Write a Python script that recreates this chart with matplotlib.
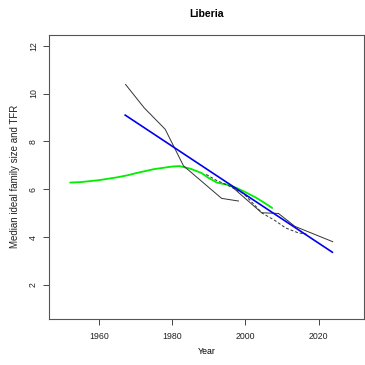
import matplotlib
matplotlib.use('Agg')
import matplotlib.pyplot as plt

plt.rcParams['font.family'] = ['Liberation Sans', 'DejaVu Sans']

# ideal family size (smoothed)
ideal_years = [1952.2, 1955, 1960, 1965, 1968, 1970, 1975, 1980, 1982, 1985,
               1988, 1990, 1991.3, 1992.2, 1995, 1997.5, 2000, 2003, 2005, 2007.3]
ideal_vals = [6.28, 6.30, 6.38, 6.50, 6.59, 6.67, 6.84, 6.95, 6.97, 6.86,
              6.68, 6.47, 6.36, 6.28, 6.19, 6.06, 5.88, 5.64, 5.45, 5.22]

# TFR, older estimates
tfr1_years = [1967.3, 1972.4, 1978.1, 1983.1, 1993.5, 1998.1]
tfr1_vals = [10.38, 9.40, 8.51, 6.98, 5.62, 5.51]

# TFR, recent estimates
tfr2_years = [1996.2, 2004.4, 2009.0, 2013.5, 2023.8]
tfr2_vals = [6.12, 5.02, 4.99, 4.45, 3.81]

# TFR, dashed series
tfr3_years = [1989.3, 1992, 1995, 1999.4, 2002, 2004.6, 2008, 2011, 2014.4, 2016.6]
tfr3_vals = [6.62, 6.38, 6.18, 5.83, 5.42, 5.00, 4.70, 4.38, 4.18, 4.13]

# linear trend
fit_years = [1967.2, 2023.7]
fit_vals = [9.10, 3.37]

xticks = [1960, 1980, 2000, 2020]
yticks = [2, 4, 6, 8, 10, 12]

fig = plt.figure(figsize=(3.65, 3.65), dpi=100)
ax = fig.add_axes([0.134, 0.126, 0.863, 0.779])

ax.plot(ideal_years, ideal_vals, color='#00ee00', lw=1.3, solid_capstyle='round')
ax.plot(tfr1_years, tfr1_vals, color='#333333', lw=0.7)
ax.plot(tfr2_years, tfr2_vals, color='#333333', lw=0.7)
ax.plot(tfr3_years, tfr3_vals, color='#333333', lw=0.7, ls=(0, (3, 2)))
ax.plot(fit_years, fit_vals, color='#0000ee', lw=1.2)

ax.set_xlim(1946.4, 2032.3)
ax.set_ylim(0.58, 12.46)
ax.set_xticks(xticks)
ax.set_yticks(yticks)
ax.set_yticklabels([str(v) for v in yticks], rotation=90, va='center')
ax.tick_params(direction='out', length=4, width=0.7, color='#444444',
               labelsize=6.3, labelcolor='#222222', pad=5)
ax.tick_params(axis='y', pad=4)
for s in ax.spines.values():
    s.set_color('#555555')
    s.set_linewidth(0.8)

ax.set_title('Liberia', fontsize=7.6, fontweight='bold', pad=12.5)
ax.set_xlabel('Year', fontsize=6.3, labelpad=5)
ax.set_ylabel('Median ideal family size and TFR', fontsize=7.0, labelpad=6,
              color='#222222')

fig.savefig('out.png', dpi=100, facecolor='white')
